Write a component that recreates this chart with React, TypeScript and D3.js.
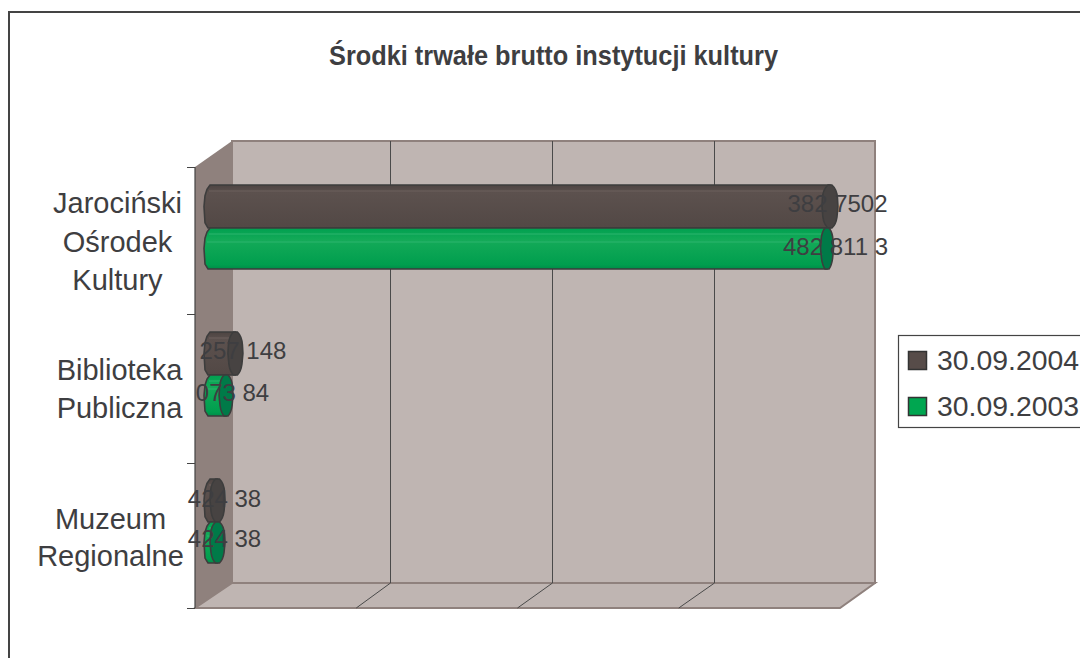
import React from "react";
import * as d3 from "d3";

const categories = ["Jarociński Ośrodek Kultury", "Biblioteka Publiczna", "Muzeum Regionalne"];
const categoryLines = [["Jarociński", "Ośrodek", "Kultury"], ["Biblioteka", "Publiczna"], ["Muzeum", "Regionalne"]];
const seriesNames = ["30.09.2004", "30.09.2003"];
const values2004 = [3857000, 170000, 59000];
const values2003 = [3839000, 112000, 59000];
const labels2004 = ["382 7502", "257 148", "424 38"];
const labels2003 = ["482 811 3", "073 84", "424 38"];
const xTicks = [0, 1000000, 2000000, 3000000, 4000000];
const backTickPositions = [232, 390.5, 552.5, 714.5, 875];

const FILL = ["#574c49", "#00a650"];
const CAP = ["#474342", "#007a48"];
const TEXT = "#3e3e41";
const font = "'Liberation Sans', Arial, sans-serif";

const x = d3.scaleLinear().domain([0, 4000000]).range([195, 840]);
const xBack = d3.scaleLinear().domain(xTicks).range(backTickPositions);
const y = d3.scaleBand<string>().domain(categories).range([167, 608]);
const BAR_X = 13;
const LEFT = 204;

function barPath(xEnd: number, top: number, h: number) {
  const l = LEFT;
  return `M${l + 6},${top} L${xEnd},${top} L${xEnd},${top + h} L${l + 4},${top + h}
    L${l + 1},${top + h * 0.88} L${l},${top + h * 0.5} L${l + 1},${top + h * 0.25} L${l + 3},${top + h * 0.1} Z`;
}
function capPath(cx: number, top: number, h: number, rx: number) {
  return `M${cx - 2},${top} L${cx + 2},${top} Q${cx + rx - 1},${top + h * 0.1} ${cx + rx - 0.5},${top + h * 0.3}
    L${cx + rx},${top + h * 0.5} L${cx + rx - 1},${top + h * 0.75} Q${cx + rx - 2},${top + h * 0.92} ${cx + 2},${top + h}
    L${cx - 2},${top + h} Q${cx - rx + 2},${top + h * 0.92} ${cx - rx + 1},${top + h * 0.75}
    L${cx - rx},${top + h * 0.5} L${cx - rx + 0.5},${top + h * 0.3} Q${cx - rx + 1},${top + h * 0.1} ${cx - 2},${top} Z`;
}

const labelX0 = [837.5, 243, 224.5];
const labelX1 = [835.5, 232.5, 224.5];
const labelY0 = [212, 359, 507];
const labelY1 = [255, 401, 547];
const catX = [117.5, 119.5, 110.5];
const catY = [[213, 252, 290], [380, 418], [529, 566]];
const capRx = [[8, 7.5, 7.5], [6.5, 7, 7.5]];

export default function App() {
  const series = [values2004, values2003];
  const labels = [labels2004, labels2003];
  return (
    <svg width={1080} height={658} style={{ position: "absolute", left: 0, top: 0, background: "#fff" }} fontFamily={font}>
      <defs>
        <linearGradient id="g0" x1="0" x2="0" y1="0" y2="1">
          <stop offset="0" stopColor="#4d4442" />
          <stop offset="0.18" stopColor="#5c514e" />
          <stop offset="1" stopColor="#524845" />
        </linearGradient>
        <linearGradient id="g1" x1="0" x2="0" y1="0" y2="1">
          <stop offset="0" stopColor="#00a050" />
          <stop offset="0.3" stopColor="#14aa58" />
          <stop offset="0.9" stopColor="#009e4e" />
          <stop offset="1" stopColor="#008c48" />
        </linearGradient>
      </defs>
      <path d="M9,658 L9,12 L1080,12" fill="none" stroke="#444" strokeWidth={2} />
      <text x={553.5} y={65} textAnchor="middle" fontWeight="bold" fontSize={27} fill={TEXT} textLength={449} lengthAdjust="spacingAndGlyphs">
        Środki trwałe brutto instytucji kultury
      </text>

      {/* walls */}
      <rect x={xBack(0)} y={141} width={xBack(4000000) - xBack(0)} height={442} fill="#bfb5b2" stroke="#8f817d" strokeWidth={2} />
      <polygon points={`195,167 ${xBack(0)},141 ${xBack(0)},583 195,608`} fill="#8f817d" />
      <polygon points={`195,608 ${xBack(0)},583 ${xBack(4000000)},583 ${x(4000000)},608`} fill="#bfb5b2" stroke="#8f817d" strokeWidth={2} />
      {xTicks.slice(1, -1).map((t) => (
        <path key={t} d={`M${xBack(t)},141 L${xBack(t)},583 L${x(t)},608`} fill="none" stroke="#4a4a4a" strokeWidth={1} />
      ))}
      <path d="M195,167 L195,608" stroke="#444" fill="none" strokeWidth={1.2} />
      {[167, 314, 463, 608].map((t) => (
        <path key={t} d={`M187,${t}.5 L195,${t}.5`} stroke="#444" />
      ))}

      {/* bars */}
      {categories.map((c, i) => {
        const top = (y(c) as number) + 18;
        return series.map((vals, s) => {
          const h = s === 0 ? 43 : 41;
          const t = top + (s === 0 ? 0 : 43);
          const xEnd = x(vals[i]) + BAR_X;
          return (
            <g key={c + s}>
              <path d={barPath(xEnd, t, h)} fill={`url(#g${s})`} stroke="#3d3d3d" strokeWidth={1.6} />
              <path d={`M${LEFT + 5},${t + 6} L${xEnd},${t + 6}`} stroke={s === 0 ? "#6e625f" : "#2cb56e"} strokeWidth={1} />
              {s === 1 && <path d={`M${LEFT + 3},${t + 14} L${xEnd},${t + 14}`} stroke="#2cb56e" strokeWidth={1} />}
              <path d={capPath(xEnd, t, h, capRx[s][i])} fill={CAP[s]} stroke="#3d3d3d" strokeWidth={1.6} />
            </g>
          );
        });
      })}

      {/* data labels */}
      {categories.map((c, i) => (
        <g key={c} fontSize={24} fill={TEXT}>
          <text x={labelX0[i]} y={labelY0[i]} textAnchor="middle">{labels[0][i]}</text>
          <text x={labelX1[i]} y={labelY1[i]} textAnchor="middle">{labels[1][i]}</text>
        </g>
      ))}

      {/* category labels */}
      {categories.map((c, i) =>
        categoryLines[i].map((ln, k) => (
          <text key={ln} x={catX[i]} y={catY[i][k]} textAnchor="middle" fontSize={29} fill={TEXT}>
            {ln}
          </text>
        ))
      )}

      {/* legend */}
      <rect x={898.5} y={335.5} width={200} height={92} fill="#fff" stroke="#444" strokeWidth={1.2} />
      {seriesNames.map((n, i) => (
        <g key={n}>
          <rect x={908.5} y={351.5 + i * 46} width={18} height={18} fill={FILL[i]} stroke="#333" strokeWidth={1.5} />
          <text x={937} y={370 + i * 45.5} fontSize={28.5} fill={TEXT} textLength={142} lengthAdjust="spacingAndGlyphs">{n}</text>
        </g>
      ))}
    </svg>
  );
}
